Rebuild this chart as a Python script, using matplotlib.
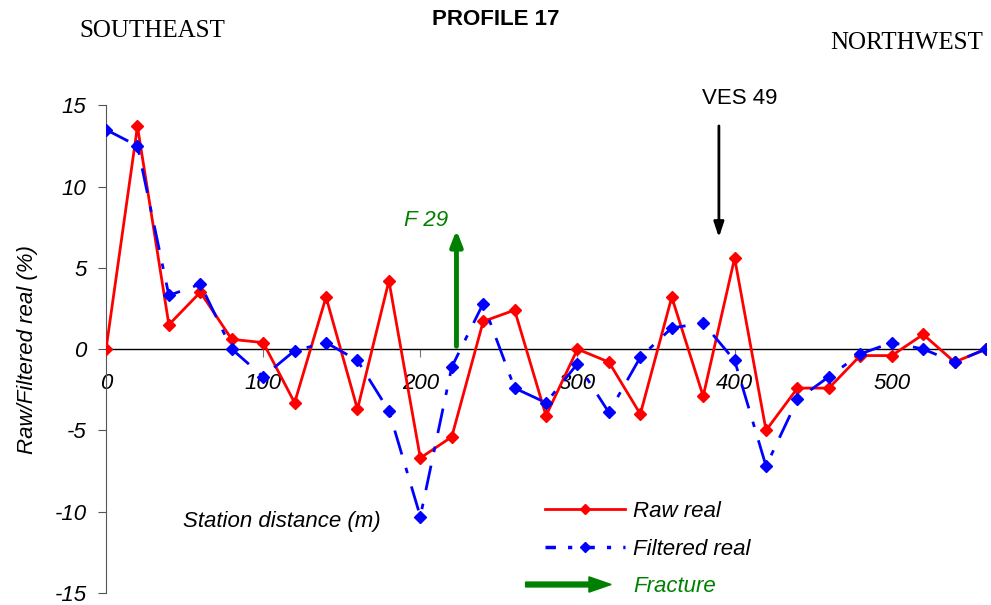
import matplotlib.pyplot as plt
from matplotlib.lines import Line2D
from matplotlib.patches import FancyArrow
from matplotlib.legend_handler import HandlerPatch

# station distance (m)
dist = [0, 20, 40, 60, 80, 100, 120, 140, 160, 180, 200, 220, 240, 260, 280,
        300, 320, 340, 360, 380, 400, 420, 440, 460, 480, 500, 520, 540, 560]

raw_real = [0, 13.7, 1.5, 3.5, 0.6, 0.4, -3.3, 3.2, -3.7, 4.2, -6.7, -5.4, 1.7, 2.4, -4.1,
            0.0, -0.8, -4.0, 3.2, -2.9, 5.6, -5.0, -2.4, -2.4, -0.4, -0.4, 0.9, -0.8, 0]

filtered_real = [13.5, 12.5, 3.3, 4.0, 0.0, -1.7, -0.1, 0.4, -0.7, -3.8, -10.3, -1.1, 2.8, -2.4, -3.3,
                 -0.9, -3.9, -0.5, 1.3, 1.6, -0.7, -7.2, -3.1, -1.7, -0.3, 0.4, 0.0, -0.8, 0]

xticks = [0, 100, 200, 300, 400, 500]
yticks = [-15, -10, -5, 0, 5, 10, 15]

plt.rcParams['font.family'] = ['Liberation Sans', 'DejaVu Sans']
plt.rcParams['axes.unicode_minus'] = False

fig = plt.figure(figsize=(9.91, 6.05), dpi=100)
ax = fig.add_axes([0.107, 0.02, 0.888, 0.806])

ax.plot(dist, raw_real, color='#FF0000', lw=2, marker='D', ms=6.5, label='Raw real', zorder=3)
ax.plot(dist, filtered_real, color='#0000FF', lw=2, marker='D', ms=6.5,
        dashes=(9, 5, 2, 5), label='Filtered real', zorder=4)

ax.set_xlim(0, 560)
ax.set_ylim(-15, 15)
ax.set_xticks(xticks)
ax.set_yticks(yticks)

for s in ['top', 'right']:
    ax.spines[s].set_visible(False)
ax.spines['bottom'].set_position(('data', 0))
ax.spines['bottom'].set_linewidth(1)
ax.spines['left'].set_color('#555555')
ax.tick_params(axis='x', direction='out', length=6, pad=11, labelsize=16, color='#777777')
ax.tick_params(axis='y', direction='out', length=6, pad=8, labelsize=16, color='#555555')
for lab in ax.get_xticklabels() + ax.get_yticklabels():
    lab.set_style('italic')

ax.set_ylabel('Raw/Filtered real (%)', fontsize=16, style='italic', labelpad=12)
ax.text(49, -10.6, 'Station distance (m)', fontsize=16, style='italic', va='center')

# fracture arrow F 29
ax.annotate('', xy=(223, 7.5), xytext=(223, 0),
            arrowprops=dict(arrowstyle='-|>,head_length=0.9,head_width=0.35', color='#008000', lw=3.5))
ax.text(218, 7.9, 'F 29', color='#008000', fontsize=16, style='italic', ha='right', va='center')

# VES 49 arrow
ax.annotate('', xy=(390, 6.7), xytext=(390, 13.9),
            arrowprops=dict(arrowstyle='-|>,head_length=0.9,head_width=0.3', color='black', lw=2))
ax.text(403, 15.4, 'VES 49', fontsize=16, ha='center', va='center')

fig.text(0.5, 0.967, 'PROFILE 17', fontsize=16, fontweight='bold', ha='center', va='center',
         family=['Liberation Sans Narrow', 'Liberation Sans'])
fig.text(0.154, 0.949, 'SOUTHEAST', fontsize=18, family='Liberation Serif', ha='center', va='center')
fig.text(0.915, 0.929, 'NORTHWEST', fontsize=18, family='Liberation Serif', ha='center', va='center')


def make_arrow(legend, orig_handle, xdescent, ydescent, width, height, fontsize):
    return FancyArrow(-14, height / 2, width + 4, 0, width=3.5, head_width=11, head_length=16,
                      length_includes_head=True, color='#008000')


frac = FancyArrow(0, 0, 1, 0, color='#008000')
handles = [Line2D([], [], color='#FF0000', lw=2, marker='D', ms=5),
           Line2D([], [], color='#0000FF', lw=2.5, marker='D', ms=5, dashes=(3, 3.5, 1.2, 3.5)),
           frac]
leg = ax.legend(handles, ['Raw real', 'Filtered real', 'Fracture'], loc='upper left',
                bbox_to_anchor=(0.55, 0.172), bbox_transform=fig.transFigure,
                frameon=False, fontsize=16, handlelength=3.6, borderpad=0, borderaxespad=0,
                labelspacing=0.75, handletextpad=0.35,
                handler_map={FancyArrow: HandlerPatch(patch_func=make_arrow)})
for t in leg.get_texts():
    t.set_style('italic')
leg.get_texts()[2].set_color('#008000')

fig.savefig('out.png', dpi=100)
